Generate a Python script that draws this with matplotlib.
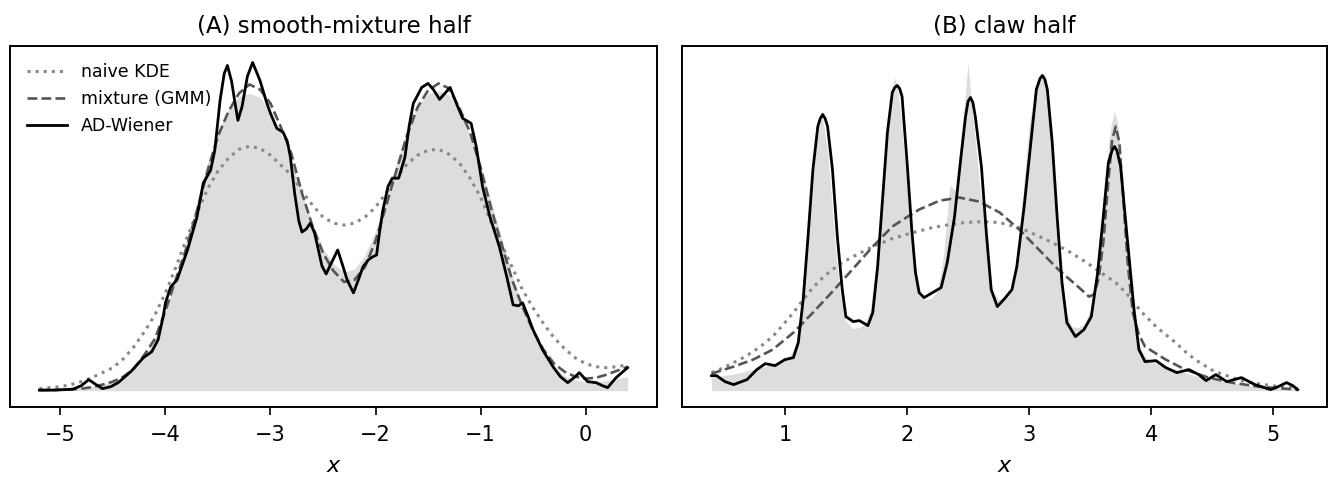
import numpy as np
import matplotlib
matplotlib.use("Agg")
import matplotlib.pyplot as plt

# ---- (A) smooth-mixture half: common grid for truth / KDE / GMM ----
xa_grid = np.linspace(-5.2, 0.4, 57)
a_truth = [1, 1, 1.5, 2, 3, 4, 6, 9, 14, 22, 34, 52, 80, 112, 150, 190, 228, 260, 282, 295,
           298, 294, 280, 258, 230, 198, 168, 143, 127, 119, 122, 136, 160, 192, 228, 262,
           285, 298, 301, 296, 280, 256, 226, 190, 153, 116, 84, 58, 38, 24, 15, 11, 9, 9,
           10, 12, 14]
a_kde = [2, 3, 4, 6, 9, 13, 18, 23, 32, 44, 59, 76, 98, 124, 152, 178, 202, 220, 233, 242,
         245, 243, 236, 226, 216, 200, 186, 174, 168, 166, 168, 174, 184, 198, 214, 227,
         236, 241, 242, 237, 228, 213, 194, 169, 147, 124, 101, 83, 67, 53, 42, 33, 27, 24,
         23, 24, 26]
a_gmm = [0.5, 0.7, 1, 1.3, 2, 3.5, 6, 9, 14, 22, 36, 52, 80, 112, 143, 180, 220, 255, 280,
         298, 307, 302, 288, 264, 237, 198, 165, 138, 120, 109, 111, 124, 150, 185, 221, 256,
         284, 301, 308, 303, 283, 259, 224, 183, 147, 111, 84, 60, 41, 27, 19, 14, 12, 13,
         16, 20, 24]

# AD-Wiener estimate, panel A (own x positions)
a_ad_x = [-5.2, -5.05, -4.88, -4.80, -4.73, -4.66, -4.60, -4.52, -4.45, -4.33, -4.21, -4.13,
          -4.07, -4.02, -4.00, -3.95, -3.89, -3.79, -3.70, -3.64, -3.57, -3.53, -3.48, -3.44,
          -3.41, -3.37, -3.34, -3.31, -3.27, -3.22, -3.17, -3.10, -3.04, -3.00, -2.94, -2.88,
          -2.84, -2.81, -2.77, -2.73, -2.70, -2.66, -2.62, -2.58, -2.55, -2.51, -2.47, -2.42,
          -2.36, -2.32, -2.27, -2.21, -2.16, -2.12, -2.07, -2.03, -1.99, -1.96, -1.93, -1.88,
          -1.84, -1.78, -1.72, -1.68, -1.64, -1.56, -1.50, -1.45, -1.39, -1.34, -1.29, -1.23,
          -1.17, -1.09, -1.04, -0.98, -0.91, -0.82, -0.75, -0.69, -0.64, -0.60, -0.55, -0.50,
          -0.41, -0.31, -0.24, -0.17, -0.11, -0.06, 0.02, 0.10, 0.16, 0.21, 0.29, 0.40]
a_ad = [0.5, 0.5, 1.5, 5, 11, 6, 2, 4, 8, 19, 33, 39, 51, 75, 88, 104, 111, 141, 174, 208,
        221, 241, 291, 318, 326, 310, 290, 271, 285, 315, 329, 311, 290, 278, 263, 259, 250,
        234, 198, 170, 159, 162, 168, 158, 144, 125, 117, 128, 141, 128, 111, 98, 112, 124,
        131, 134, 136, 160, 181, 205, 213, 213, 234, 265, 288, 304, 308, 302, 292, 298, 304,
        288, 273, 268, 244, 204, 174, 144, 114, 86, 85, 88, 75, 61, 41, 24, 14, 8, 13, 18, 9,
        8, 5, 3, 13, 23]

# ---- (B) claw half ----
b_truth_x = [0.40, 0.50, 0.60, 0.70, 0.80, 0.90, 1.00, 1.05, 1.10, 1.15, 1.20, 1.25, 1.30,
             1.35, 1.40, 1.45, 1.50, 1.55, 1.60, 1.65, 1.70, 1.75, 1.80, 1.85, 1.875, 1.90,
             1.925, 1.95, 2.00, 2.05, 2.10, 2.15, 2.20, 2.25, 2.30, 2.35, 2.40, 2.45, 2.475,
             2.50, 2.525, 2.55, 2.60, 2.65, 2.70, 2.75, 2.80, 2.85, 2.90, 2.95, 3.00, 3.05,
             3.075, 3.10, 3.125, 3.15, 3.20, 3.25, 3.30, 3.35, 3.40, 3.45, 3.50, 3.55, 3.60,
             3.65, 3.675, 3.70, 3.725, 3.75, 3.80, 3.85, 3.90, 3.95, 4.0, 4.1, 4.2, 4.3, 4.4,
             4.5, 4.6, 4.7, 4.8, 4.9, 5.0, 5.1, 5.2]
b_truth = [14, 15, 17, 20, 23, 26, 30, 36, 50, 90, 165, 240, 279, 240, 165, 98, 70, 62, 63,
           66, 80, 130, 210, 275, 300, 313, 300, 275, 205, 140, 100, 91, 92, 100, 135, 205,
           200, 262, 292, 328, 292, 262, 200, 150, 100, 91, 92, 100, 130, 195, 265, 300, 312,
           318, 312, 295, 215, 130, 80, 64, 63, 66, 80, 118, 185, 245, 268, 279, 268, 240,
           160, 85, 45, 34, 30, 25, 21, 17, 14, 11, 9, 7, 5, 4, 3, 2, 2]
b_kde_x = [0.40, 0.50, 0.58, 0.66, 0.74, 0.82, 0.90, 0.98, 1.07, 1.15, 1.23, 1.31, 1.39,
           1.47, 1.56, 1.72, 1.88, 2.05, 2.21, 2.35, 2.48, 2.62, 2.76, 2.94, 3.14, 3.30,
           3.46, 3.60, 3.71, 3.80, 3.87, 3.95, 4.04, 4.12, 4.20, 4.28, 4.36, 4.44, 4.52,
           4.62, 4.71, 4.82, 4.93, 5.05, 5.20]
b_kde = [18, 23, 28, 33, 39, 46, 54, 65, 78, 91, 103, 113, 121, 128, 134, 144, 152, 158,
         163, 166, 168, 169, 168, 162, 151, 141, 129, 117, 108, 97, 86, 75, 64, 56, 48, 39,
         31, 25, 19, 15, 11, 8, 6, 4, 3]
b_gmm_x = [0.40, 0.58, 0.74, 0.90, 1.07, 1.23, 1.39, 1.56, 1.72, 1.88, 2.02, 2.10, 2.27,
           2.43, 2.59, 2.76, 2.92, 3.08, 3.24, 3.41, 3.49, 3.53, 3.57, 3.61, 3.65, 3.68,
           3.71, 3.74, 3.77, 3.81, 3.85, 3.90, 3.95, 4.12, 4.28, 4.47, 4.66, 4.88, 5.20]
b_gmm = [17, 24, 31, 41, 58, 78, 99, 122, 144, 164, 175, 181, 190, 193, 189, 178, 161, 141,
         121, 103, 94, 96, 112, 150, 210, 250, 264, 248, 195, 125, 78, 56, 44, 31, 21, 13,
         8, 4, 1]
b_ad_x = [0.40, 0.44, 0.51, 0.58, 0.69, 0.77, 0.84, 0.92, 1.00, 1.07, 1.11, 1.15, 1.19, 1.23,
          1.27, 1.29, 1.31, 1.33, 1.35, 1.39, 1.43, 1.47, 1.50, 1.56, 1.61, 1.68, 1.72, 1.76,
          1.80, 1.84, 1.88, 1.90, 1.92, 1.94, 1.96, 2.00, 2.04, 2.07, 2.10, 2.14, 2.21, 2.28,
          2.33, 2.39, 2.44, 2.48, 2.50, 2.52, 2.54, 2.56, 2.61, 2.65, 2.69, 2.74, 2.80, 2.86,
          2.90, 2.96, 3.02, 3.06, 3.09, 3.11, 3.13, 3.15, 3.19, 3.23, 3.27, 3.31, 3.38, 3.45,
          3.51, 3.56, 3.61, 3.65, 3.68, 3.70, 3.72, 3.75, 3.80, 3.86, 3.90, 3.95, 4.04, 4.12,
          4.21, 4.31, 4.39, 4.45, 4.53, 4.62, 4.74, 4.85, 4.98, 5.04, 5.11, 5.16, 5.20]
b_ad = [15, 15, 9, 6, 11, 21, 27, 25, 31, 33, 48, 91, 154, 221, 264, 272, 276, 272, 264, 221,
        154, 101, 74, 69, 70, 65, 78, 124, 191, 258, 298, 303, 305, 302, 294, 230, 160, 118,
        98, 93, 98, 103, 128, 174, 231, 274, 289, 293, 288, 274, 224, 158, 101, 84, 92, 101,
        124, 184, 254, 301, 312, 315, 311, 301, 248, 174, 108, 68, 54, 61, 74, 116, 176, 228,
        240, 244, 240, 224, 158, 81, 41, 29, 30, 23, 18, 21, 16, 10, 16, 9, 13, 6, 1, 4, 8, 5,
        1]

SCALE = 1e-3  # read in pixel-height units; present as density


def panel(ax, title, truth_x, truth, kde_x, kde, gmm_x, gmm, ad_x, ad, legend=False):
    ax.fill_between(truth_x, 0, np.array(truth) * SCALE, color="#dddddd", lw=0)
    ax.plot(kde_x, np.array(kde) * SCALE, ls=":", color="#888888", lw=2.2, label="naive KDE")
    ax.plot(gmm_x, np.array(gmm) * SCALE, ls="--", color="#555555", lw=1.9,
            label="mixture (GMM)")
    ax.plot(ad_x, np.array(ad) * SCALE, color="black", lw=2.0, label="AD-Wiener",
            solid_joinstyle="round")
    ax.set_title(title, fontsize=16.5, pad=10)
    ax.set_xlabel("$x$", fontsize=16, labelpad=8)
    ax.set_yticks([])
    ax.tick_params(axis="x", labelsize=15, length=6, width=1.2, pad=7)
    for s in ax.spines.values():
        s.set_linewidth(1.4)
    if legend:
        ax.legend(loc="upper left", frameon=False, fontsize=12.5, handlelength=2.3,
                  borderaxespad=0.6)


fig = plt.figure(figsize=(13.3, 4.8), dpi=100)
ax1 = fig.add_axes([0.0075, 0.152, 0.4865, 0.752])
ax2 = fig.add_axes([0.513, 0.152, 0.4847, 0.752])

panel(ax1, "(A) smooth-mixture half", xa_grid, a_truth, xa_grid, a_kde, xa_grid, a_gmm,
      a_ad_x, a_ad, legend=True)
panel(ax2, "(B) claw half", b_truth_x, b_truth, b_kde_x, b_kde, b_gmm_x, b_gmm,
      b_ad_x, b_ad)
ax1.set_xticks([-5, -4, -3, -2, -1, 0])
ax2.set_xticks([1, 2, 3, 4, 5])

fig.savefig("out.png", dpi=100)
